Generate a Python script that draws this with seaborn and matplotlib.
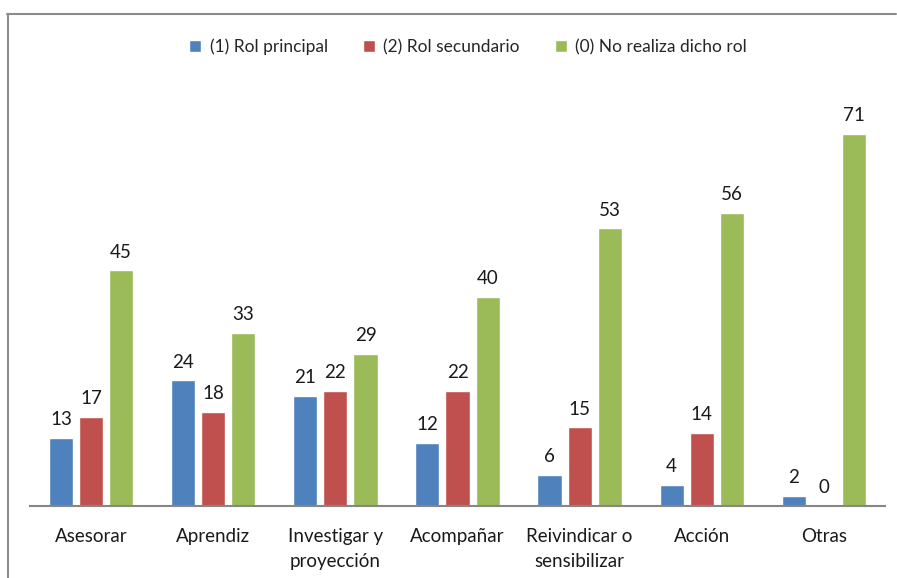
import matplotlib
matplotlib.use("Agg")
import matplotlib.pyplot as plt
from matplotlib.lines import Line2D
import seaborn as sns
import pandas as pd

categories = ["Asesorar", "Aprendiz", "Investigar y\nproyección", "Acompañar",
              "Reivindicar o\nsensibilizar", "Acción", "Otras"]
series_names = ["(1) Rol principal", "(2) Rol secundario", "(0) No realiza dicho rol"]
rol_principal = [13, 24, 21, 12, 6, 4, 2]
rol_secundario = [17, 18, 22, 22, 15, 14, 0]
no_realiza = [45, 33, 29, 40, 53, 56, 71]
colors = ["#4F81BD", "#C0504D", "#9BBB59"]

rows = []
for name, vals in zip(series_names, [rol_principal, rol_secundario, no_realiza]):
    for c, v in zip(categories, vals):
        rows.append({"cat": c, "serie": name, "valor": v})
df = pd.DataFrame(rows)

sns.set_theme(style="white")
plt.rcParams["font.family"] = ["Lato", "DejaVu Sans"]

W, H = 897, 578
fig = plt.figure(figsize=(W / 100, H / 100), dpi=100)
ax = fig.add_axes([30 / W, 1 - 506 / H, 855 / W, (506 - 87) / H])

sns.barplot(data=df, x="cat", y="valor", hue="serie", order=categories,
            hue_order=series_names, palette=colors, width=0.74, gap=0.2,
            saturation=1, ax=ax, legend=True)

for cont in ax.containers:
    ax.bar_label(cont, labels=[f"{int(v)}" for v in cont.datavalues],
                 padding=7, fontsize=13.5, color="#1a1a1a")

ax.set_ylim(0, 80)
ax.set_xlim(-0.5, 6.5)
ax.set_xlabel("")
ax.set_ylabel("")
ax.set_yticks([])
ax.tick_params(axis="x", length=0, pad=16, labelsize=13.5, colors="#1a1a1a")
for lab in ax.get_xticklabels():
    lab.set_linespacing(1.55)
for s in ["top", "right", "left"]:
    ax.spines[s].set_visible(False)
ax.spines["bottom"].set_color("#868686")
ax.spines["bottom"].set_linewidth(1.5)

leg = ax.legend(loc="upper center", ncol=3, frameon=False,
                fontsize=12.5, handlelength=0.7, handleheight=0.7,
                handletextpad=0.5, columnspacing=2.0)
leg.set_bbox_to_anchor((468 / W, 1 - 23 / H), transform=fig.transFigure)

fig.add_artist(Line2D([7.5 / W, 7.5 / W], [0, 1 - 14 / H], transform=fig.transFigure,
                      color="#8c8c8c", lw=1.5))
fig.add_artist(Line2D([7 / W, 896 / W], [1 - 14 / H, 1 - 14 / H], transform=fig.transFigure,
                      color="#8c8c8c", lw=1.5))

fig.savefig("out.png", dpi=100)
